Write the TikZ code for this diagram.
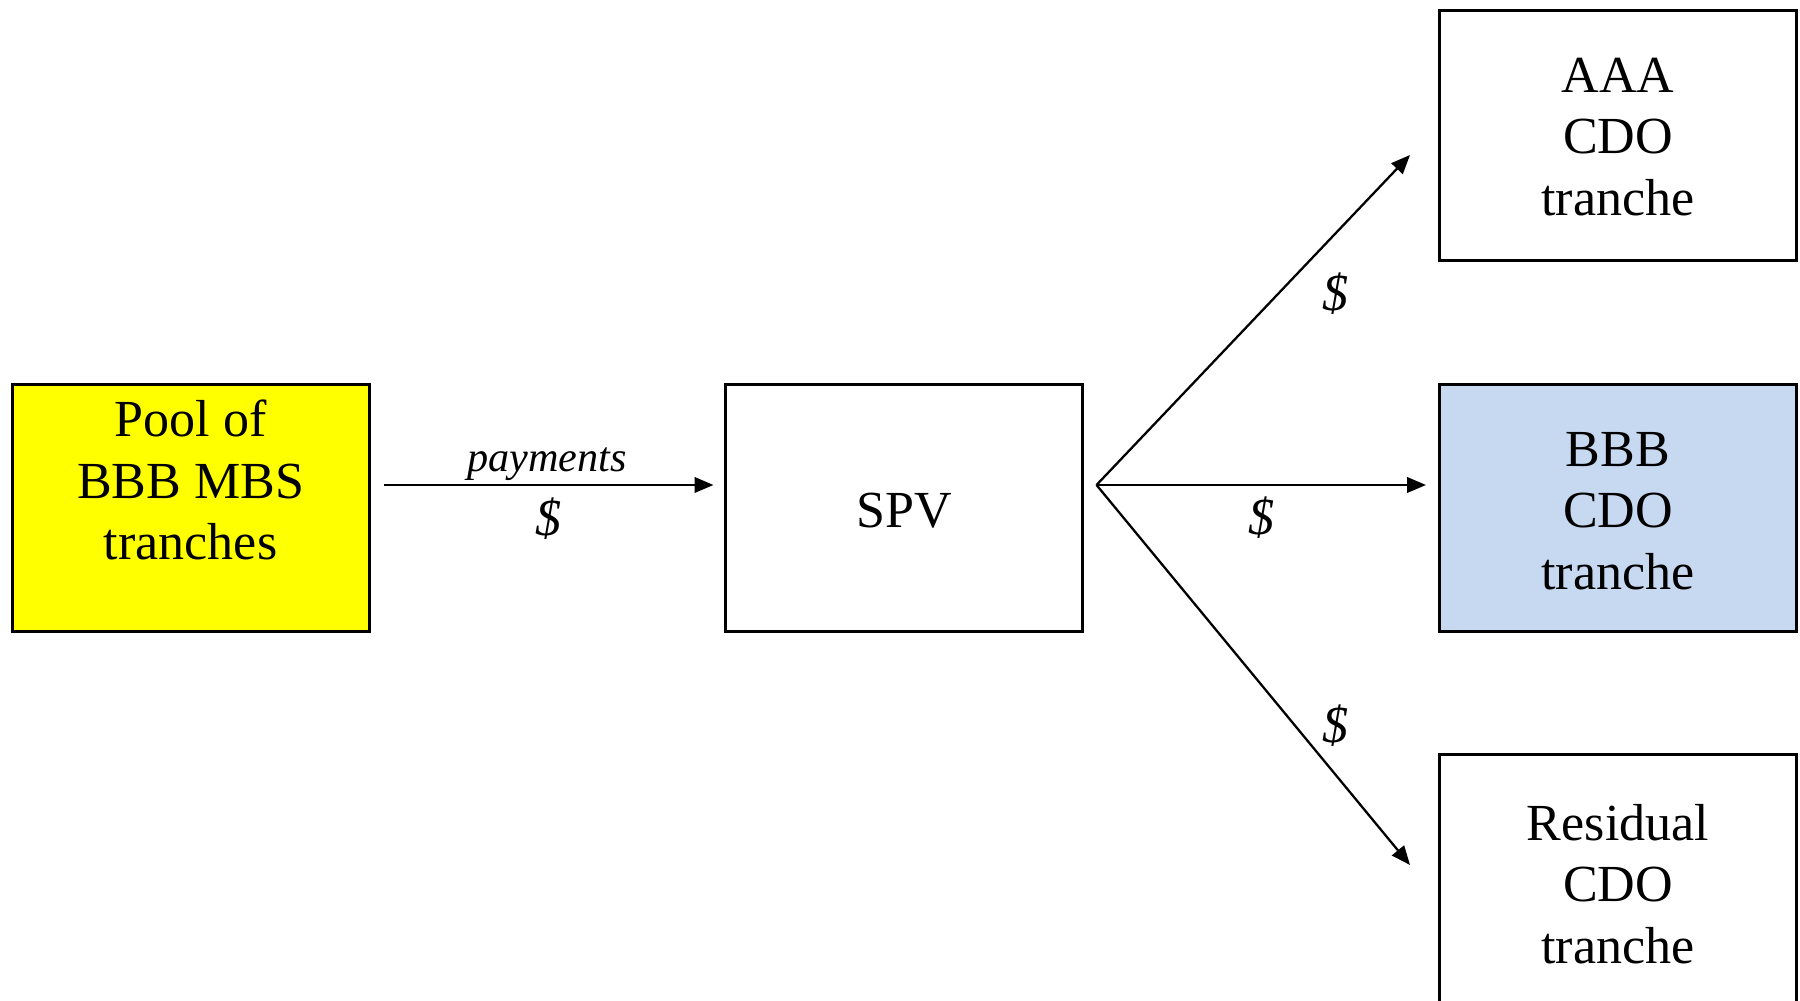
\documentclass[tikz,border=0pt]{standalone}
\usepackage{fontspec}
\setmainfont{Liberation Serif}
\usetikzlibrary{arrows.meta}
\definecolor{poolyellow}{HTML}{FFFF00}
\definecolor{bbbblue}{HTML}{C6D9F1}
\begin{document}
\begin{tikzpicture}[x=0.01cm,y=-0.01cm,
  box/.style={draw=black,line width=0.85pt,minimum width=3.57cm,minimum height=2.465cm,inner sep=0pt},
  txt/.style={align=center,font=\fontsize{14.8}{17.5}\selectfont,inner sep=0pt},
  arr/.style={line width=0.65pt,-{Triangle[length=5.4pt,width=4.4pt]}},
  money/.style={font=\fontsize{14.8}{17.5}\selectfont\itshape,inner sep=0pt}]
\useasboundingbox (0,0) rectangle (1800,1001);
\clip (0,0) rectangle (1800,1001);
\fill[white] (0,0) rectangle (1800,1001);
% boxes
\node[box,fill=poolyellow] (pool) at (191.3,508) {};
\node[box] (spv) at (904,508) {};
\node[box,minimum height=2.5cm] (aaa) at (1618.3,135.3) {};
\node[box,fill=bbbblue] (bbb) at (1618.3,508) {};
\node[box,minimum height=2.6cm] (res) at (1618.3,884.5) {};
% texts
\node[txt] (pooltxt) at (190.6,480) {Pool of\\BBB MBS\\tranches};
\node[txt] (spvtxt) at (904.6,511) {SPV};
\node[txt] (aaatxt) at (1618,137) {AAA\\CDO\\tranche};
\node[txt] (bbbtxt) at (1618,511) {BBB\\CDO\\tranche};
\node[txt] (restxt) at (1618,884) {Residual\\CDO\\tranche};
% connector points
\coordinate (payS) at (384,485);
\coordinate (payE) at (713.5,485);
\coordinate (fan) at (1096.5,485);
\coordinate (tipA) at (1410,155);
\coordinate (tipB) at (1426,485);
\coordinate (tipC) at (1410,865);
\draw[arr] (payS) -- (payE);
\draw[arr] (fan) -- (tipA);
\draw[arr] (fan) -- (tipB);
\draw[arr] (fan) -- (tipC);
% labels
\node[font=\fontsize{12}{14}\selectfont\itshape,inner sep=0pt] (paylbl) at (547,464) {payments};
\node[money] (d1) at (549,519) {\$};
\node[money] (d2) at (1261,518) {\$};
\node[money] (d3) at (1335,294) {\$};
\node[money] (d4) at (1335.5,726) {\$};
\end{tikzpicture}
\end{document}
